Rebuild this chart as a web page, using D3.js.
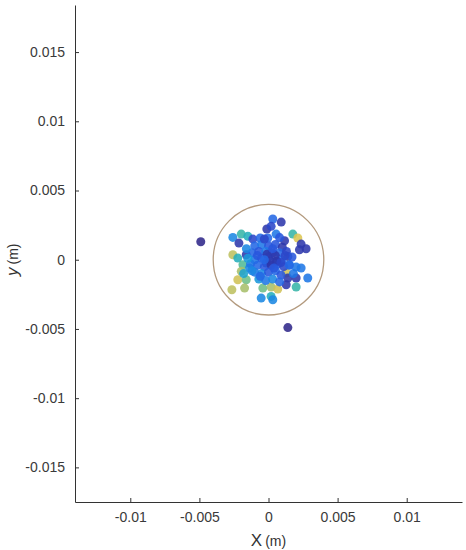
<!DOCTYPE html>
<html>
<head>
<meta charset="utf-8">
<script src="https://cdn.jsdelivr.net/npm/d3@7"></script>
<style>
  body { margin: 0; background: #fff; }
  svg { display: block; font-family: 'Liberation Sans', Arial, sans-serif; }
</style>
</head>
<body>
<svg id="chart" width="466" height="550"></svg>
<script>
// x, y in metres, c = position on the colour map (0 dark navy .. 1 yellow)
const xValues = [
  -0.0049, 0.0014, 0.00031, 0.00092, -0.00012, 0.00019, -0.00258, -0.00197, -0.00149, -0.00214,
  -0.00113, -0.0006, -0.00005, 0.00055, 0.00116, 0.00176, 0.00212, 0.00236, 0.00272, 0.00224,
  -0.00258, -0.00222, -0.00161, -0.00185, -0.00137, -0.00197, -0.00017, 0.00055, 0.0014, 0.00152,
  0.002, 0.00236, 0.00128, 0.0014, 0.002, 0.00284, -0.00222, -0.00161, -0.00265, -0.00173,
  -0.00041, 0.00019, 0.00067, 0.00128, 0.002, -0.00053, 0.00019, 0.00031,
  -0.001, -0.0005, 0.0, 0.0005, 0.001, -0.0012, -0.0007, -0.0002, 0.0003, 0.0008,
  0.0013, -0.001, -0.0005, 0.0, 0.0005, 0.001, -0.0013, -0.0008, -0.0003, 0.0002,
  0.0007, 0.0011, -0.001, -0.0005, 0.0, 0.0005, 0.0009, -0.0007, -0.0002, 0.0003,
  0.0008, -0.0016, -0.0018, 0.0017, 0.0018, -0.0003, 0.0008, 0.0001, -0.0001, 0.0006,
  -0.0008, -0.0003, 0.0004, 0.0012, -0.0012, 0.0003, -0.0006, 0.0009, -0.0015, 0.0015
]
const yValues = [
  0.0013, -0.0049, 0.00294, 0.00272, 0.00222, 0.00241, 0.00161, 0.00185, 0.00169, 0.0012,
  0.00149, 0.00157, 0.00157, 0.00185, 0.00137, 0.00185, 0.00157, 0.00113, 0.00079, 0.00072,
  0.00036, 0.00012, 0.00036, -0.00036, -0.0006, -0.00084, -0.00024, -0.00012, 0.00024, -0.00036,
  -0.00053, -0.0006, -0.00096, -0.00132, -0.00132, -0.00132, -0.00145, -0.00145, -0.00217, -0.00205,
  -0.00205, -0.00197, -0.00212, -0.00181, -0.00197, -0.00277, -0.00265, -0.00289,
  0.001, 0.0011, 0.001, 0.0011, 0.0009, 0.0005, 0.0006, 0.0006, 0.0005, 0.0005,
  0.0006, 0.0, 0.0001, 0.0002, 0.0003, 0.0, -0.0003, -0.0004, -0.0005, -0.0004,
  -0.0003, -0.0005, -0.0009, -0.001, -0.0009, -0.0008, -0.0011, -0.0014, -0.0015, -0.0014,
  -0.0016, 0.0008, -0.001, 0.0002, -0.001, 0.0015, 0.0016, -0.0001, 0.0004, -0.0001,
  0.0003, 0.0, -0.0006, 0.0003, -0.0008, 0.0008, -0.0012, -0.0002, 0.0001, -0.0004
]
const cValues = [
  0, 0, 0.2, 0.05, 0.05, 0.1, 0.3, 0.5, 0.45, 0.05,
  0.1, 0.2, 0.2, 0.25, 0.05, 0.5, 0.85, 0.05, 0.05, 0.05,
  0.75, 0.45, 0.05, 0.55, 0.3, 0.7, 0.05, 0.2, 0.05, 0.25,
  0.25, 0.25, 0.8, 0.05, 0.05, 0.25, 0.8, 0.6, 0.75, 0.7,
  0.6, 0.7, 0.8, 0.05, 0.5, 0.3, 0.45, 0.3,
  0.2, 0.25, 0.15, 0.15, 0.05, 0.2, 0.15, 0.25, 0.1, 0.2,
  0.1, 0.25, 0.15, 0.15, 0.05, 0.2, 0.25, 0.2, 0.15, 0.05,
  0.2, 0.1, 0.25, 0.3, 0.15, 0.2, 0.15, 0.35, 0.25, 0.3,
  0.2, 0.3, 0.4, 0.15, 0.25, 0.1, 0.15, 0.05, 0.05, 0.05,
  0.15, 0.2, 0.15, 0.1, 0.3, 0.15, 0.2, 0.1, 0.35, 0.2
]
const xTicks = [-0.01, -0.005, 0, 0.005, 0.01]
const yTicks = [-0.015, -0.01, -0.005, 0, 0.005, 0.01, 0.015]
const circleRadius = 0.004

const points = xValues.map((x, i) => ({ x, y: yValues[i], c: cValues[i] }))

const svg = d3.select('#chart')

const margin = { top: 5, right: 4, bottom: 48, left: 75 }
const width = 466 - margin.left - margin.right
const height = 550 - margin.top - margin.bottom

const x = d3.scaleLinear().domain([-0.014, 0.014]).range([0, width])
const y = d3.scaleLinear().domain([-0.0175, 0.0184]).range([height, 0])

// parula-like colour map, a bit brighter in the blues like the picture
const parula = d3.interpolateRgbBasis(['#30288a', '#2b4fe2', '#1f78ea', '#13a0dc', '#2fb8a6', '#7fc07e', '#c4be5e', '#e6c64e', '#f2e444'])

const g = svg.append('g').attr('transform', `translate(${margin.left},${margin.top})`)

const fmt = d => (d === 0 ? '0' : String(d))

g.append('g')
  .attr('class', 'axis axis--x')
  .attr('transform', `translate(0,${height})`)
  .call(d3.axisBottom(x).tickValues(xTicks).tickFormat(fmt).tickSizeInner(-4).tickSizeOuter(0).tickPadding(10))

g.append('g')
  .attr('class', 'axis axis--y')
  .call(d3.axisLeft(y).tickValues(yTicks).tickFormat(fmt).tickSizeInner(-4).tickSizeOuter(0).tickPadding(10))

g.selectAll('.axis path, .axis line').attr('stroke', '#333').attr('stroke-width', 1)
g.selectAll('.axis text').attr('fill', '#3a3a3a').attr('font-size', '14px').attr('font-family', "'Liberation Sans', Arial, sans-serif")

// reference circle
g.append('circle')
  .attr('cx', x(0))
  .attr('cy', y(0))
  .attr('r', x(circleRadius) - x(0))
  .attr('fill', 'none')
  .attr('stroke', '#b39a7e')
  .attr('stroke-width', 1.3)

g.selectAll('.dot')
  .data(points)
  .enter()
  .append('circle')
  .attr('class', 'dot')
  .attr('cx', d => x(d.x))
  .attr('cy', d => y(d.y))
  .attr('r', 4.5)
  .attr('fill', d => parula(d.c))
  .attr('fill-opacity', 0.88)

// axis labels
const xLabel = svg.append('text')
  .attr('x', margin.left + x(0))
  .attr('y', 546)
  .attr('text-anchor', 'middle')
  .attr('fill', '#333')
xLabel.append('tspan').attr('font-size', '17px').text('X')
xLabel.append('tspan').attr('font-size', '14px').attr('dx', 3).text('(m)')

const yLabel = svg.append('text')
  .attr('transform', `translate(18,${margin.top + y(0)}) rotate(-90)`)
  .attr('text-anchor', 'middle')
  .attr('fill', '#333')
yLabel.append('tspan').attr('font-size', '17px').attr('font-style', 'italic').text('y')
yLabel.append('tspan').attr('font-size', '14px').attr('dx', 3).text('(m)')
</script>
</body>
</html>
